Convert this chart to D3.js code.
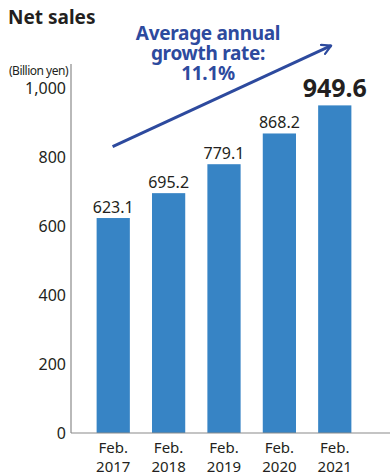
<!DOCTYPE html>
<html>
<head>
<meta charset="utf-8">
<script src="https://cdn.jsdelivr.net/npm/d3@7"></script>
<style>
  body { margin: 0; background: #fff; }
  svg { display: block; font-family: "Noto Sans", "Open Sans", sans-serif; }
</style>
</head>
<body>
<svg id="chart" width="390" height="475"></svg>
<script>
// Net sales by fiscal year (billion yen)
const periods = ["Feb.\n2017", "Feb.\n2018", "Feb.\n2019", "Feb.\n2020", "Feb.\n2021"];
const sales = [623.1, 695.2, 779.1, 868.2, 949.6];
const yTicks = [0, 200, 400, 600, 800, 1000];
const growthLines = ["Average annual", "growth rate:", "11.1%"];

const svg = d3.select("#chart");
const barColor = "#3784c5";
const accent = "#2d4a9e";
const textColor = "#231f20";

const plot = { left: 71, right: 390, top: 64, bottom: 433 };

const x = d3.scaleBand()
  .domain(periods)
  .range([80, 368])
  .paddingInner(0.4)
  .paddingOuter(0.3);

const y = d3.scaleLinear()
  .domain([0, 1000])
  .range([plot.bottom, 88]);

// Title
svg.append("text")
  .attr("x", 8).attr("y", 24)
  .attr("font-size", 19).attr("font-weight", 700)
  .attr("fill", textColor)
  .text("Net sales");

// Unit label
svg.append("text")
  .attr("x", 68).attr("y", 75)
  .attr("text-anchor", "end")
  .attr("font-size", 12)
  .attr("letter-spacing", -0.5)
  .attr("fill", textColor)
  .text("(Billion yen)");

// Bars
svg.append("g").selectAll("rect")
  .data(sales)
  .join("rect")
  .attr("x", (d, i) => x(periods[i]))
  .attr("width", x.bandwidth())
  .attr("y", d => y(d))
  .attr("height", d => y(0) - y(d))
  .attr("fill", barColor);

// Y axis
const yAxis = svg.append("g")
  .attr("transform", `translate(${plot.left},0)`)
  .call(d3.axisLeft(y).tickValues(yTicks).tickSize(0).tickPadding(5)
    .tickFormat(d3.format(",")));
yAxis.select(".domain").remove();
yAxis.selectAll("text")
  .attr("font-size", 16)
  .attr("font-family", "'Noto Sans', sans-serif")
  .attr("fill", textColor);
svg.append("line")
  .attr("x1", plot.left).attr("x2", plot.left)
  .attr("y1", plot.top).attr("y2", plot.bottom)
  .attr("stroke", "#8a8a8a").attr("stroke-width", 1.2);

// X axis
const xAxis = svg.append("g")
  .attr("transform", `translate(0,${plot.bottom})`)
  .call(d3.axisBottom(x).tickSize(0).tickFormat(""));
xAxis.select(".domain").remove();
svg.append("line")
  .attr("x1", plot.left).attr("x2", plot.right)
  .attr("y1", plot.bottom).attr("y2", plot.bottom)
  .attr("stroke", "#8a8a8a").attr("stroke-width", 1.2);

const xLabels = svg.append("g").selectAll("text")
  .data(periods)
  .join("text")
  .attr("x", d => x(d) + x.bandwidth() / 2)
  .attr("y", 453)
  .attr("text-anchor", "middle")
  .attr("font-size", 15)
  .attr("fill", textColor);
xLabels.each(function(d) {
  const parts = d.split("\n");
  d3.select(this).selectAll("tspan")
    .data(parts)
    .join("tspan")
    .attr("x", x(d) + x.bandwidth() / 2)
    .attr("dy", (p, i) => i === 0 ? 0 : 19)
    .text(p => p);
});

// Value labels
svg.append("g").selectAll("text")
  .data(sales)
  .join("text")
  .attr("x", (d, i) => x(periods[i]) + x.bandwidth() / 2)
  .attr("y", (d, i) => y(d) - (i === sales.length - 1 ? 8 : 5))
  .attr("text-anchor", "middle")
  .attr("font-size", (d, i) => i === sales.length - 1 ? 25 : 16)
  .attr("font-weight", (d, i) => i === sales.length - 1 ? 700 : 400)
  .attr("fill", textColor)
  .text(d => d.toFixed(1));

// Growth arrow
const arrowStart = [x(periods[0]) + 16, y(830)];
const arrowEnd = [x(periods[4]) + 13, y(1123)];
svg.append("defs").append("marker")
  .attr("id", "head")
  .attr("viewBox", "0 0 12 12")
  .attr("refX", 10).attr("refY", 6)
  .attr("markerWidth", 12).attr("markerHeight", 12)
  .attr("markerUnits", "userSpaceOnUse")
  .attr("orient", "auto")
  .append("path")
  .attr("d", "M1,1 L10,6 L1,11")
  .attr("fill", "none")
  .attr("stroke", accent)
  .attr("stroke-width", 2.2)
  .attr("stroke-linecap", "round")
  .attr("stroke-linejoin", "round");
svg.append("line")
  .attr("x1", arrowStart[0]).attr("y1", arrowStart[1])
  .attr("x2", arrowEnd[0]).attr("y2", arrowEnd[1])
  .attr("stroke", accent).attr("stroke-width", 3)
  .attr("marker-end", "url(#head)");

// Growth rate annotation
svg.append("g").selectAll("text")
  .data(growthLines)
  .join("text")
  .attr("x", 208)
  .attr("y", (d, i) => 40 + i * 20)
  .attr("text-anchor", "middle")
  .attr("font-size", 19)
  .attr("font-weight", 700)
  .attr("letter-spacing", -0.3)
  .attr("fill", accent)
  .text(d => d);
</script>
</body>
</html>
